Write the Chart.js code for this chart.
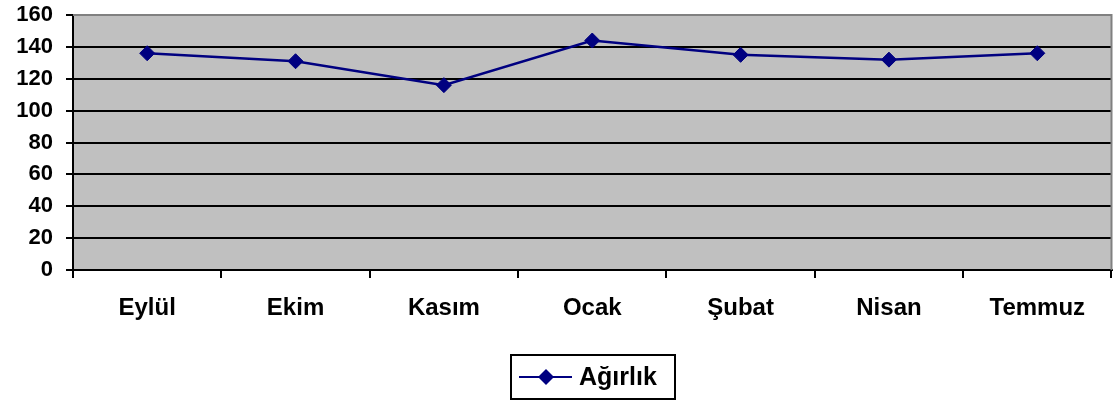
<!DOCTYPE html>
<html>
<head>
<meta charset="utf-8">
<script src="https://cdn.jsdelivr.net/npm/chart.js@4/dist/chart.umd.min.js"></script>
<style>
  html, body { margin: 0; padding: 0; background: #ffffff; }
  #wrap { position: relative; width: 1120px; height: 401px; }
  canvas { display: block; }
</style>
</head>
<body>
<div id="wrap"><canvas id="chart" width="1120" height="401"></canvas></div>
<script>
// Monthly weight readings
const months = ['Eylül', 'Ekim', 'Kasım', 'Ocak', 'Şubat', 'Nisan', 'Temmuz'];
const weights = [136, 131, 116, 144, 135, 132, 136];
const seriesName = 'Ağırlık';
const yTicks = [0, 20, 40, 60, 80, 100, 120, 140, 160];

const FONT = '"Liberation Sans", Arial, sans-serif';
const NAVY = '#000080';

// Gray plot background with a darker frame on the top and right edges
const plotBackground = {
  id: 'plotBackground',
  beforeDraw(chart) {
    const { ctx, chartArea: a } = chart;
    ctx.save();
    ctx.fillStyle = '#c0c0c0';
    ctx.fillRect(a.left, a.top, a.right - a.left, a.bottom - a.top);
    ctx.restore();
  },
  afterDatasetsDraw(chart) {
    const { ctx, chartArea: a } = chart;
    ctx.save();
    ctx.strokeStyle = '#808080';
    ctx.lineWidth = 2;
    ctx.beginPath();
    ctx.moveTo(a.left, a.top);
    ctx.lineTo(a.right, a.top);
    ctx.lineTo(a.right, a.bottom);
    ctx.stroke();
    ctx.restore();
  }
};

// Boxed legend with a line-and-diamond sample
const boxedLegend = {
  id: 'boxedLegend',
  afterDraw(chart) {
    const { ctx } = chart;
    const ds = chart.data.datasets[0];
    const x = 511, y = 355, w = 164, h = 44;
    ctx.save();
    ctx.fillStyle = '#ffffff';
    ctx.fillRect(x, y, w, h);
    ctx.strokeStyle = '#000000';
    ctx.lineWidth = 2;
    ctx.strokeRect(x, y, w, h);
    const cy = y + h / 2;
    ctx.strokeStyle = NAVY;
    ctx.lineWidth = 2;
    ctx.beginPath();
    ctx.moveTo(x + 8, cy);
    ctx.lineTo(x + 61, cy);
    ctx.stroke();
    ctx.fillStyle = NAVY;
    ctx.beginPath();
    ctx.moveTo(x + 35 - 8, cy);
    ctx.lineTo(x + 35, cy - 8);
    ctx.lineTo(x + 35 + 8, cy);
    ctx.lineTo(x + 35, cy + 8);
    ctx.closePath();
    ctx.fill();
    ctx.fillStyle = '#000000';
    ctx.font = 'bold 25px ' + FONT;
    ctx.textAlign = 'left';
    ctx.textBaseline = 'middle';
    ctx.fillText(ds.label, x + 68, cy + 1);
    ctx.restore();
  }
};

new Chart(document.getElementById('chart'), {
  type: 'line',
  data: {
    labels: months,
    datasets: [{
      label: seriesName,
      data: weights,
      borderColor: NAVY,
      borderWidth: 2.5,
      backgroundColor: NAVY,
      pointStyle: 'rectRot',
      pointRadius: 7.5,
      pointBorderWidth: 1,
      pointBorderColor: NAVY,
      pointBackgroundColor: NAVY,
      tension: 0,
      fill: false
    }]
  },
  options: {
    responsive: false,
    animation: false,
    layout: { padding: { top: 15, right: 7, left: 0, bottom: 0 } },
    plugins: {
      legend: { display: false },
      tooltip: { enabled: false }
    },
    scales: {
      x: {
        type: 'category',
        offset: true,
        grid: {
          offset: true,
          drawOnChartArea: false,
          drawTicks: true,
          tickLength: 8,
          color: '#000000',
          lineWidth: 2
        },
        border: { display: true, color: '#000000', width: 2 },
        ticks: {
          color: '#000000',
          font: { family: FONT, size: 24, weight: 'bold' },
          padding: 16,
          maxRotation: 0,
          autoSkip: false
        },
        afterFit(scale) {
          scale.height = 131;
          scale.paddingLeft = 0;
          scale.paddingRight = 0;
        }
      },
      y: {
        min: 0,
        max: 160,
        afterBuildTicks(scale) { scale.ticks = yTicks.map(v => ({ value: v })); },
        grid: {
          color: (c) => (c.tick && c.tick.value === 160) ? 'rgba(0,0,0,0)' : '#000000',
          tickColor: '#000000',
          lineWidth: 2,
          drawTicks: true,
          tickLength: 7
        },
        border: { display: true, color: '#000000', width: 2 },
        ticks: {
          color: '#000000',
          font: { family: FONT, size: 22, weight: 'bold' },
          padding: 13
        },
        afterFit(scale) {
          scale.width = 73;
          scale.paddingTop = 0;
          scale.paddingBottom = 0;
        }
      }
    }
  },
  plugins: [plotBackground, boxedLegend]
});
</script>
</body>
</html>
